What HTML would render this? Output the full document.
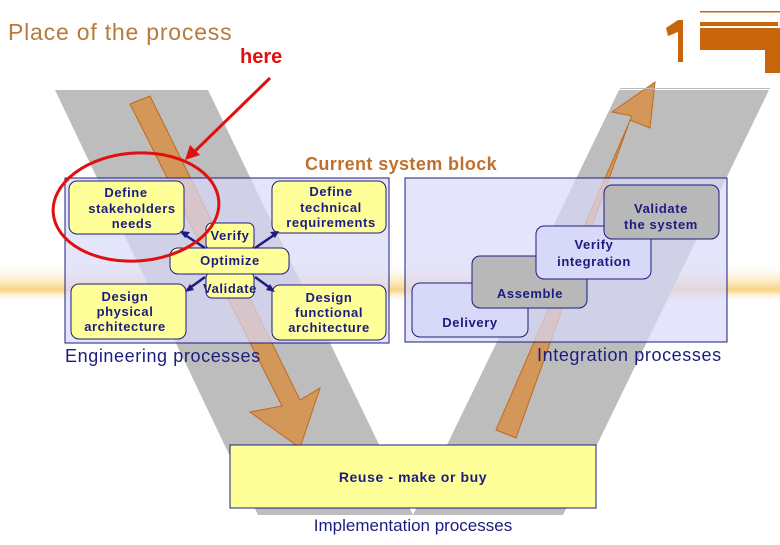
<!DOCTYPE html>
<html><head><meta charset="utf-8"><style>
body{margin:0;width:780px;height:540px;overflow:hidden;background:#fff;font-family:"Liberation Sans",sans-serif}
</style></head><body>
<svg width="780" height="540" viewBox="0 0 780 540" xmlns="http://www.w3.org/2000/svg" font-family="Liberation Sans, sans-serif">
<defs>
<linearGradient id="band" x1="0" y1="0" x2="0" y2="1">
<stop offset="0" stop-color="#fff" stop-opacity="0"/>
<stop offset="0.7" stop-color="#f5c860"/>
<stop offset="1" stop-color="#fff" stop-opacity="0"/>
</linearGradient>
</defs>
<rect x="0" y="262" width="780" height="40" fill="url(#band)" opacity="0.8"/>
<polygon points="55,90 208,90 413,515 258,515" fill="#bdbdbd"/>
<polygon points="619,90 769,90 563,515 413,515" fill="#bdbdbd"/>
<polygon points="130,104 150,96 300,400 320,388 300,448 250,412 282,406" fill="#d4975a" stroke="#c06a1a" stroke-width="1"/>
<polygon points="496,430 516,438 630,120 650,128 655,82 612,112 632,116" fill="#d4975a" stroke="#c06a1a" stroke-width="1"/>
<rect x="65" y="178" width="324" height="165" fill="#d8d8f8" fill-opacity="0.7" stroke="#1c1c80"/>
<rect x="405" y="178" width="322" height="164" fill="#d8d8f8" fill-opacity="0.7" stroke="#1c1c80"/>
<g fill="#ffff99" stroke="#1c1c80" stroke-width="1">
<rect x="69" y="181" width="115" height="53" rx="8"/>
<rect x="272" y="181" width="114" height="52" rx="8"/>
<rect x="206" y="223" width="48" height="27" rx="6"/>
<rect x="206" y="272" width="48" height="26" rx="6"/>
<rect x="170" y="248" width="119" height="26" rx="8"/>
<rect x="71" y="284" width="115" height="55" rx="8"/>
<rect x="272" y="285" width="114" height="55" rx="8"/>
</g>
<g stroke="#1c1c80" stroke-width="2.5">
<line x1="205" y1="248" x2="182" y2="233"/><line x1="255" y1="248" x2="277" y2="233"/>
<line x1="205" y1="277" x2="187" y2="290"/><line x1="255" y1="277" x2="273" y2="290"/>
</g>
<g fill="#1c1c80"><polygon points="180,231 190,232 185,238"/><polygon points="279,231 270,232 275,238"/><polygon points="185,292 190,284 194,290"/><polygon points="275,292 266,290 270,284"/></g>
<g fill="#1c1c80" font-weight="bold" font-size="13" text-anchor="middle" letter-spacing="0.6">
<text x="126" y="197">Define</text><text x="132" y="213">stakeholders</text><text x="132" y="228">needs</text>
<text x="331" y="196">Define</text><text x="331" y="212">technical</text><text x="331" y="227">requirements</text>
<text x="230" y="240">Verify</text><text x="230" y="265">Optimize</text><text x="230" y="293">Validate</text>
<text x="125" y="301">Design</text><text x="125" y="316">physical</text><text x="125" y="331">architecture</text>
<text x="329" y="302">Design</text><text x="329" y="317">functional</text><text x="329" y="332">architecture</text>
</g>
<rect x="412" y="283" width="116" height="54" rx="8" fill="#d8d8f8" stroke="#1c1c80"/>
<rect x="472" y="256" width="115" height="52" rx="8" fill="#b8b8b8" stroke="#1c1c80"/>
<rect x="536" y="226" width="115" height="53" rx="8" fill="#d8d8f8" stroke="#1c1c80"/>
<rect x="604" y="185" width="115" height="54" rx="8" fill="#b8b8b8" stroke="#1c1c80"/>
<g fill="#1c1c80" font-weight="bold" font-size="13" text-anchor="middle" letter-spacing="0.6">
<text x="661" y="213">Validate</text><text x="661" y="229">the system</text>
<text x="594" y="249">Verify</text><text x="594" y="266">integration</text>
<text x="530" y="298">Assemble</text>
<text x="470" y="327">Delivery</text>
</g>
<g fill="#1c1c80" font-size="18" letter-spacing="0.6">
<text x="65" y="362">Engineering processes</text>
<text x="537" y="361">Integration processes</text>
</g>
<rect x="230" y="445" width="366" height="63" fill="#ffff99" stroke="#1c1c80"/>
<text x="413" y="482" text-anchor="middle" fill="#1c1c80" font-weight="bold" font-size="14" letter-spacing="0.6">Reuse - make or buy</text>
<text x="413" y="531" text-anchor="middle" fill="#1c1c80" font-size="17">Implementation processes</text>
<text x="8" y="40" fill="#b87a3a" font-size="23" letter-spacing="0.8">Place of the process</text>
<text x="240" y="63" fill="#e01010" font-weight="bold" font-size="20">here</text>
<text x="305" y="170" fill="#c0702a" font-weight="bold" font-size="18" letter-spacing="0.4">Current system block</text>
<ellipse cx="136" cy="207" rx="83" ry="54" fill="none" stroke="#e01010" stroke-width="3" transform="rotate(-4 136 207)"/>
<line x1="270" y1="78" x2="192" y2="154" stroke="#e01010" stroke-width="3"/>
<polygon points="185,160 190,145 200,155" fill="#e01010"/>
<polygon points="666,28 678,20 683,20 683,62 678,62 678,32 668,36" fill="#c8650a"/>
<rect x="700" y="11" width="80" height="1.5" fill="#c8650a"/>
<rect x="700" y="22" width="78" height="4" fill="#c8650a"/>
<polygon points="700,28 780,28 780,73 765,73 765,50 700,50" fill="#c8650a"/>
<rect x="620" y="88" width="150" height="1" fill="#bbb"/>
</svg>
</body></html>
